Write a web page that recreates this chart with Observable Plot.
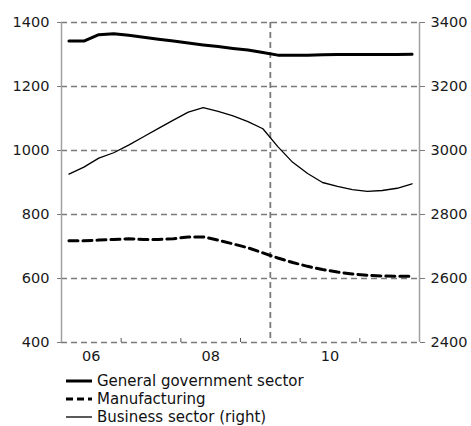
<!DOCTYPE html>
<html><head><meta charset="utf-8">
<script src="https://cdn.jsdelivr.net/npm/d3@7"></script>
<script src="https://cdn.jsdelivr.net/npm/@observablehq/plot@0.6"></script>
<style>
body{margin:0;background:#fff;font-family:"DejaVu Sans",Verdana,sans-serif;}
#legend{margin-left:66px;margin-top:4px;font-size:15px;color:#111}
.row{display:flex;align-items:center;height:18px;white-space:nowrap}
.row svg{margin-right:5px;display:block}
</style></head><body>
<div id="chart"></div>
<div id="legend"></div>
<script>
const quarters = ["2006Q1","2006Q2","2006Q3","2006Q4","2007Q1","2007Q2","2007Q3","2007Q4",
  "2008Q1","2008Q2","2008Q3","2008Q4","2009Q1","2009Q2","2009Q3","2009Q4",
  "2010Q1","2010Q2","2010Q3","2010Q4","2011Q1","2011Q2","2011Q3","2011Q4"];
const govSector = [1342,1342,1362,1365,1360,1354,1348,1342,1336,1330,1325,1319,1314,1306,1298,1298,1298,1299,1300,1300,1300,1300,1300,1301];
const manufacturing = [718,718,720,722,724,722,722,724,730,730,720,708,696,680,664,650,638,628,620,614,610,608,607,607];
const businessRight = [2926,2948,2976,2993,3017,3043,3069,3095,3120,3134,3122,3108,3090,3068,3012,2963,2928,2900,2888,2878,2872,2875,2882,2896];
const seriesNames = ["General government sector","Manufacturing","Business sector (right)"];
const leftTicks = [400,600,800,1000,1200,1400];
const rightTicks = [2400,2600,2800,3000,3200,3400];
const xLabels = ["06","08","10"];
const xLabelYears = [2006,2008,2010];
const yearBoundaries = [2007,2008,2009,2010,2011];
const forecastStart = 2009.5;
const rightOffset = 2000;

const qx = q => +q.slice(0,4) + (+q.slice(5) - 0.5) / 4;
const rows = [];
quarters.forEach((q,i) => {
  rows.push({x: qx(q), y: govSector[i], s: seriesNames[0]});
  rows.push({x: qx(q), y: manufacturing[i], s: seriesNames[1]});
  rows.push({x: qx(q), y: businessRight[i] - rightOffset, s: seriesNames[2]});
});
const bySeries = n => rows.filter(r => r.s === n);

const grid = "#7a7a7a";
const chart = Plot.plot({
  width: 471, height: 368,
  marginTop: 22, marginBottom: 26, marginLeft: 61, marginRight: 52,
  style: {fontSize: "14.5px", fontFamily: '"DejaVu Sans", Verdana, sans-serif', color: "#1a1a1a", background: "#fff"},
  x: {domain: [2006, 2012]},
  y: {domain: [400, 1400]},
  marks: [
    Plot.ruleY(leftTicks, {stroke: grid, strokeWidth: 1.6, strokeDasharray: "6,4"}),
    Plot.ruleX([forecastStart], {stroke: grid, strokeWidth: 1.8, strokeDasharray: "6,4"}),
    Plot.ruleX([2006], {stroke: "#a0a0a0", strokeWidth: 1.5}),
    Plot.ruleX([2012], {stroke: "#a0a0a0", strokeWidth: 1.5}),
    Plot.ruleX(yearBoundaries, {stroke: "#555", strokeWidth: 1, insetTop: 316}),
    Plot.axisY(leftTicks, {anchor: "left", tickSize: 4, tickPadding: 8, stroke: grid, label: null, tickFormat: d => String(d)}),
    Plot.axisY(rightTicks.map(d => d - rightOffset), {anchor: "right", tickSize: 5, tickPadding: 6, stroke: grid, label: null, tickFormat: d => String(d + rightOffset)}),
    Plot.axisX(xLabelYears.map(d => d + 0.5), {anchor: "bottom", tickSize: 0, tickPadding: 8, label: null, tickFormat: (d,i) => xLabels[i]}),
    Plot.line(bySeries(seriesNames[2]), {x: "x", y: "y", stroke: "#000", strokeWidth: 1.3}),
    Plot.line(bySeries(seriesNames[1]), {x: "x", y: "y", stroke: "#000", strokeWidth: 3, strokeDasharray: "9,5"}),
    Plot.line(bySeries(seriesNames[0]), {x: "x", y: "y", stroke: "#000", strokeWidth: 3})
  ]
});
document.getElementById("chart").appendChild(chart);

const styles = [{w:3,d:null},{w:3,d:"7,4"},{w:1.3,d:null}];
const leg = document.getElementById("legend");
seriesNames.forEach((n,i) => {
  const row = document.createElement("div");
  row.className = "row";
  const sw = d3.create("svg").attr("width", 26).attr("height", 10);
  sw.append("line").attr("x1",0).attr("x2",26).attr("y1",5).attr("y2",5)
    .attr("stroke","#000").attr("stroke-width",styles[i].w)
    .attr("stroke-dasharray", styles[i].d);
  row.appendChild(sw.node());
  const t = document.createElement("span");
  t.textContent = n;
  row.appendChild(t);
  leg.appendChild(row);
});
</script>
</body></html>
